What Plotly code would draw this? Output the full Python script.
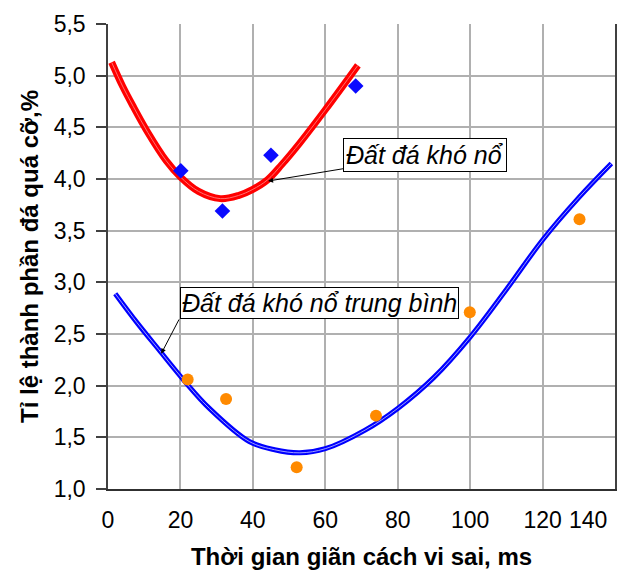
import plotly.graph_objects as go

# Data
hard_x = [20.1, 31.6, 45.0, 68.4]
hard_y = [4.08, 3.69, 4.23, 4.90]
medium_x = [22.0, 32.6, 52.1, 74.0, 99.9, 130.2]
medium_y = [2.06, 1.87, 1.21, 1.71, 2.71, 3.61]

red_curve_x = [1, 4, 7, 11, 16, 20, 25, 31, 36, 40, 44, 48, 53, 60, 69]
red_curve_y = [5.13, 4.90, 4.70, 4.45, 4.18, 4.02, 3.88, 3.81, 3.84, 3.90, 3.99, 4.14, 4.35, 4.67, 5.10]
blue_curve_x = [2, 8, 14, 21, 28, 39, 46, 53, 60, 71, 80, 90, 100, 110, 120, 130, 139]
blue_curve_y = [2.89, 2.61, 2.35, 2.05, 1.78, 1.46, 1.38, 1.35, 1.39, 1.57, 1.78, 2.08, 2.47, 2.93, 3.41, 3.82, 4.15]

x_ticks = [0, 20, 40, 60, 80, 100, 120, 140]
x_tick_text = ["0", "20", "40", "60", "80", "100", "120", ""]
x_last_label = "140"
y_ticks = [1.0, 1.5, 2.0, 2.5, 3.0, 3.5, 4.0, 4.5, 5.0, 5.5]
y_tick_text = ["1,0", "1,5", "2,0", "2,5", "3,0", "3,5", "4,0", "4,5", "5,0", "5,5"]

label_hard = "Đất đá khó nổ"
label_medium = "Đất đá khó nổ trung bình"
x_title = "Thời gian giãn cách vi sai, ms"
y_title = "Tỉ lệ thành phần đá quá cỡ,%"

FONT = "Liberation Sans, Arial, sans-serif"
FS = 23
FS_TITLE = 24
FS_NOTE = 25

fig = go.Figure()
# trend curves (thick line + lighter centre line)
fig.add_trace(go.Scatter(x=red_curve_x, y=red_curve_y, mode="lines",
                         line=dict(color="#ff0000", width=7, shape="spline", smoothing=1.0),
                         hoverinfo="skip", showlegend=False))
fig.add_trace(go.Scatter(x=red_curve_x, y=red_curve_y, mode="lines",
                         line=dict(color="#ff7070", width=1, shape="spline", smoothing=1.0),
                         hoverinfo="skip", showlegend=False))
fig.add_trace(go.Scatter(x=blue_curve_x, y=blue_curve_y, mode="lines",
                         line=dict(color="#0000ff", width=5, shape="spline", smoothing=1.0),
                         hoverinfo="skip", showlegend=False))
fig.add_trace(go.Scatter(x=blue_curve_x, y=blue_curve_y, mode="lines",
                         line=dict(color="#a0a0ff", width=1, shape="spline", smoothing=1.0),
                         hoverinfo="skip", showlegend=False))
# data points
fig.add_trace(go.Scatter(x=hard_x, y=hard_y, mode="markers",
                         marker=dict(symbol="diamond", size=12, color="#0a0aff",
                                     line=dict(width=0)),
                         showlegend=False))
fig.add_trace(go.Scatter(x=medium_x, y=medium_y, mode="markers",
                         marker=dict(symbol="circle", size=12, color="#ff8a00",
                                     line=dict(width=0)),
                         showlegend=False))

# labels with arrows
fig.add_annotation(x=44.2, y=3.98, ax=87.6, ay=4.23, axref="x", ayref="y",
                   text="<i>" + label_hard + "</i>", showarrow=True, arrowhead=2,
                   arrowsize=1, arrowwidth=1, arrowcolor="black",
                   font=dict(family=FONT, size=FS_NOTE, color="black"),
                   bgcolor="white", bordercolor="black", borderwidth=1, borderpad=2)
fig.add_annotation(x=58.4, y=2.80, text="<i>" + label_medium + "</i>", showarrow=False,
                   font=dict(family=FONT, size=FS_NOTE, color="black"),
                   bgcolor="white", bordercolor="black", borderwidth=1, borderpad=1)
fig.add_annotation(x=14.7, y=2.31, ax=19.9, ay=2.66, axref="x", ayref="y",
                   text=" ", showarrow=True, arrowhead=2, arrowsize=1,
                   arrowwidth=1, arrowcolor="black", font=dict(size=1))
# last x tick label, drawn inside the figure edge as in the reference
fig.add_annotation(x=140, y=0, xref="x", yref="paper", text=x_last_label,
                   showarrow=False, xanchor="right", yanchor="top",
                   xshift=-6, yshift=-16,
                   font=dict(family=FONT, size=FS, color="black"))

fig.update_layout(
    width=622, height=577,
    template="none",
    paper_bgcolor="white", plot_bgcolor="white",
    margin=dict(l=108, r=7, t=24, b=88),
    font=dict(family=FONT, size=FS, color="black"),
    showlegend=False,
)
fig.update_xaxes(range=[0, 140], tickvals=x_ticks, ticktext=x_tick_text,
                 showgrid=True, gridcolor="#b0b0b0", gridwidth=1.5,
                 showline=True, linecolor="#303030", linewidth=2, mirror=False,
                 ticks="", ticklabelstandoff=9, zeroline=False, automargin=False,
                 tickfont=dict(family=FONT, size=FS, color="black"),
                 title=dict(text="<b>" + x_title + "</b>", standoff=17,
                            font=dict(family=FONT, size=FS_TITLE, color="black")))
fig.update_yaxes(range=[1.0, 5.5], tickvals=y_ticks, ticktext=y_tick_text,
                 showgrid=True, gridcolor="#b0b0b0", gridwidth=1.5,
                 showline=True, linecolor="#404040", linewidth=1.5, mirror=True,
                 ticks="outside", ticklen=10, tickcolor="#404040", tickwidth=1.5,
                 ticklabelstandoff=6,
                 zeroline=False, automargin=False,
                 tickfont=dict(family=FONT, size=FS, color="black"),
                 title=dict(text="<b>" + y_title + "</b>", standoff=8,
                            font=dict(family=FONT, size=FS_TITLE, color="black")))

fig.write_html("out.html", config={"displayModeBar": False},
               post_script="document.body.style.margin='0';document.body.style.padding='0';")
